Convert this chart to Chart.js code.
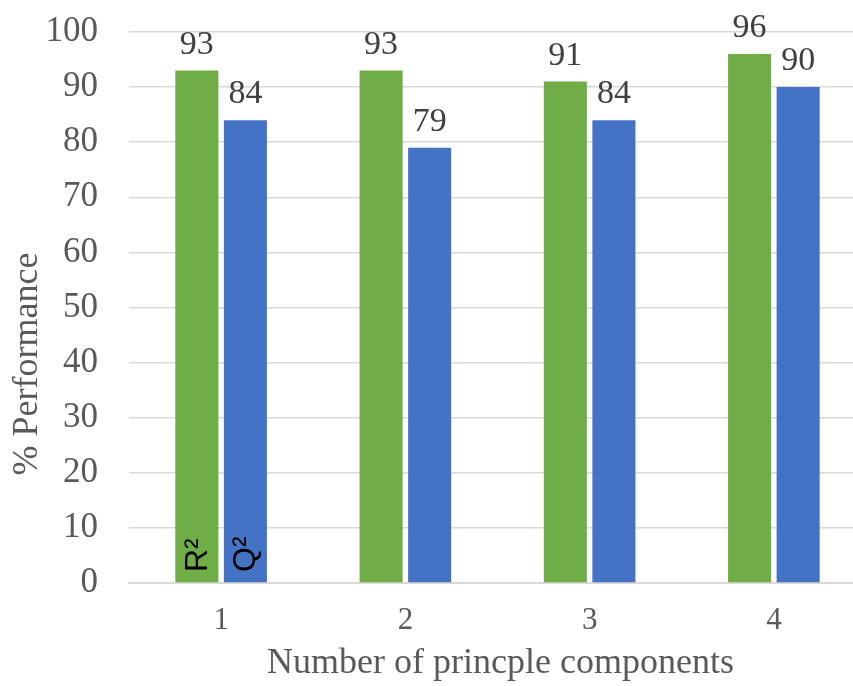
<!DOCTYPE html>
<html>
<head>
<meta charset="utf-8">
<script src="https://cdn.jsdelivr.net/npm/chart.js@4/dist/chart.umd.min.js"></script>
<style>
  html, body { margin: 0; padding: 0; background: #ffffff; overflow: hidden; }
  #wrap { width: 853px; height: 686px; overflow: hidden; }
  canvas { display: block; }
</style>
</head>
<body>
<div id="wrap"><canvas id="c" width="866" height="686"></canvas></div>
<script>
const categories = ['1', '2', '3', '4'];
const r2Values = [93, 93, 91, 96];
const q2Values = [84, 79, 84, 90];
const seriesNames = ['R\u00B2', 'Q\u00B2'];
const yTickValues = [0, 10, 20, 30, 40, 50, 60, 70, 80, 90, 100];
const xTitle = 'Number of princple components';
const yTitle = '% Performance';

const SERIF = '"Liberation Serif", "Times New Roman", serif';
const SANS = '"Liberation Sans", Arial, sans-serif';

const labelPlugin = {
  id: 'labels',
  afterDatasetsDraw(chart) {
    const ctx = chart.ctx;
    const area = chart.chartArea;
    ctx.save();
    ctx.font = '34px ' + SERIF;
    ctx.fillStyle = '#404040';
    ctx.textAlign = 'center';
    ctx.textBaseline = 'alphabetic';
    chart.data.datasets.forEach((ds, di) => {
      const meta = chart.getDatasetMeta(di);
      meta.data.forEach((bar, i) => {
        ctx.fillText(String(ds.data[i]), bar.x, bar.y - 17);
      });
    });
    ctx.font = '32px ' + SANS;
    ctx.fillStyle = '#000000';
    ctx.textAlign = 'left';
    chart.data.datasets.forEach((ds, di) => {
      const bar = chart.getDatasetMeta(di).data[0];
      ctx.save();
      ctx.translate(bar.x + 10, area.bottom - 11);
      ctx.rotate(-Math.PI / 2);
      ctx.fillText(seriesNames[di], 0, 0);
      ctx.restore();
    });
    ctx.restore();
  },
  afterDraw(chart) {
    const ctx = chart.ctx;
    const area = chart.chartArea;
    ctx.save();
    ctx.fillStyle = '#595959';
    ctx.textAlign = 'center';
    ctx.textBaseline = 'alphabetic';
    ctx.font = '36px ' + SERIF;
    ctx.fillText(xTitle, (area.left + area.right) / 2 + 3, 673);
    ctx.save();
    ctx.translate(37, 364);
    ctx.rotate(-Math.PI / 2);
    ctx.font = '36px ' + SERIF;
    ctx.fillText(yTitle, 0, 0);
    ctx.restore();
    ctx.restore();
  }
};

new Chart(document.getElementById('c'), {
  type: 'bar',
  data: {
    labels: categories,
    datasets: [
      { label: seriesNames[0], data: r2Values, backgroundColor: '#70AD47', borderWidth: 0,
        categoryPercentage: 0.527, barPercentage: 0.887 },
      { label: seriesNames[1], data: q2Values, backgroundColor: '#4472C4', borderWidth: 0,
        categoryPercentage: 0.527, barPercentage: 0.887 }
    ]
  },
  options: {
    responsive: false,
    animation: false,
    devicePixelRatio: 1,
    layout: { padding: { top: 32, right: 0, bottom: 0, left: 0 } },
    plugins: { legend: { display: false }, tooltip: { enabled: false } },
    scales: {
      x: {
        grid: { display: false, drawTicks: false },
        border: { display: true, color: '#d9d9d9', width: 2 },
        ticks: { color: '#595959', font: { family: SERIF, size: 31 }, padding: 19 },
        afterFit(scale) { scale.height = 103; }
      },
      y: {
        min: 0, max: 100,
        afterBuildTicks(scale) { scale.ticks = yTickValues.map(v => ({ value: v })); },
        grid: { color: '#d9d9d9', lineWidth: 1.5, drawTicks: false },
        border: { display: false },
        ticks: { color: '#595959', font: { family: SERIF, size: 35 }, padding: 31 },
        afterFit(scale) { scale.width = 129; scale.paddingTop = 20; scale.paddingBottom = 20; }
      }
    }
  },
  plugins: [labelPlugin]
});
</script>
</body>
</html>
